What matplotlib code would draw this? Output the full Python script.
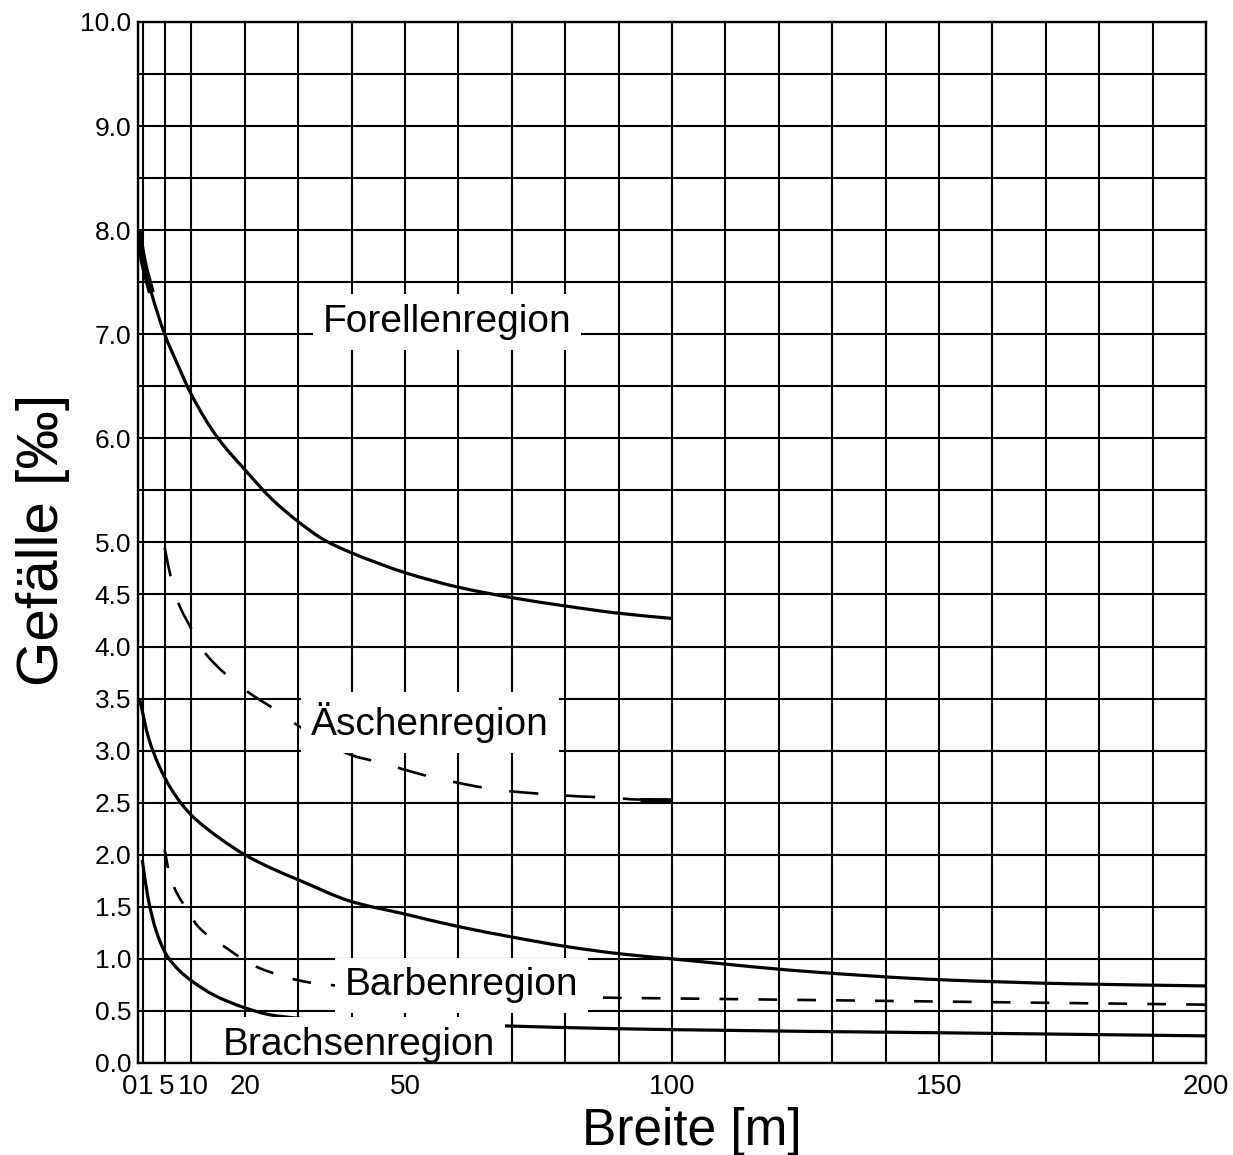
import matplotlib
matplotlib.use("Agg")
import matplotlib.pyplot as plt
import matplotlib.transforms as mtransforms
from matplotlib.path import Path
from matplotlib.patches import PathPatch

plt.rcParams["font.family"] = ["Liberation Sans", "DejaVu Sans"]
plt.rcParams["lines.scale_dashes"] = False

# Grenzkurven der Fischregionen: Breite [m] -> Gefälle [‰]
FORELLEN_X = [0, 1, 2.5, 5, 7.5, 10, 15, 20, 25, 30, 35, 40, 45, 50, 60, 70, 80, 90, 100]
FORELLEN_Y = [8.0, 7.7, 7.4, 7.0, 6.7, 6.42, 6.0, 5.7, 5.42, 5.2, 5.02, 4.9, 4.8, 4.71,
              4.57, 4.47, 4.39, 4.32, 4.27]

AESCHEN_X = [5.0, 6.0, 7.4, 10, 12.4, 16.3, 20.4, 25.2, 30, 35, 40.4, 45, 50.4, 55.5, 61,
             66.4, 71.8, 77.2, 82.8, 88, 94, 100]
AESCHEN_Y = [4.95, 4.70, 4.44, 4.17, 3.95, 3.74, 3.57, 3.41, 3.24, 3.08, 2.95, 2.89, 2.81,
             2.74, 2.68, 2.63, 2.60, 2.58, 2.56, 2.55, 2.53, 2.53]

BARBEN_X = [0.3, 2, 3.9, 6, 8, 10, 15, 20, 25, 30, 40, 50, 60, 70, 80, 90, 100, 125, 150,
            175, 200]
BARBEN_Y = [3.5, 3.12, 2.86, 2.65, 2.5, 2.38, 2.17, 2.0, 1.87, 1.76, 1.55, 1.43, 1.31, 1.21,
            1.12, 1.05, 1.0, 0.88, 0.8, 0.76, 0.74]

BARBEN_GRENZE_X = [5, 5.9, 7.3, 9.1, 11.1, 13.7, 16.7, 19.5, 22.8, 26.1, 30.4, 33.8, 60, 84,
                   100, 150, 200]
BARBEN_GRENZE_Y = [2.05, 1.81, 1.63, 1.48, 1.32, 1.2, 1.1, 1.0, 0.91, 0.85, 0.79, 0.76, 0.68,
                   0.63, 0.62, 0.59, 0.56]

BRACHSEN_X = [0.8, 1.9, 3.4, 5.2, 7.5, 10, 14.3, 20, 25, 30, 40, 60, 80, 100, 150, 200]
BRACHSEN_Y = [1.95, 1.58, 1.27, 1.05, 0.9, 0.79, 0.65, 0.53, 0.46, 0.43, 0.40, 0.37, 0.34,
              0.32, 0.29, 0.26]

X_TICKS = [0, 1, 5, 10, 20, 50, 100, 150, 200]
X_GRID = [30, 40, 60, 70, 80, 90, 110, 120, 130, 140, 160, 170, 180, 190]
Y_TICKS = [0.0, 0.5, 1.0, 1.5, 2.0, 2.5, 3.0, 3.5, 4.0, 4.5, 5.0, 6.0, 7.0, 8.0, 9.0, 10.0]
Y_GRID = [5.5, 6.5, 7.5, 8.5, 9.5]

# seitlicher Versatz der gedrängten Achsenzahlen am Nullpunkt (Pixel)
X_LABEL_SHIFT = {0: -1, 1: 2, 5: 1.5, 10: 2}

# Beschriftung der Regionen (Mitte x, Grundlinie y)
REGIONEN = [
    ("Forellenregion", 57.9, 7.02),
    ("Äschenregion", 54.7, 3.15),
    ("Barbenregion", 60.6, 0.65),
    ("Brachsenregion", 41.4, 0.08),
]


def glatter_pfad(xs, ys):
    """Monotone kubische Verbindung der Stützpunkte als Bezier-Pfad."""
    n = len(xs)
    h = [xs[i + 1] - xs[i] for i in range(n - 1)]
    d = [(ys[i + 1] - ys[i]) / h[i] for i in range(n - 1)]
    m = [d[0]] + [0.0] * (n - 2) + [d[-1]]
    for k in range(1, n - 1):
        if d[k - 1] * d[k] > 0:
            w1 = 2 * h[k] + h[k - 1]
            w2 = h[k] + 2 * h[k - 1]
            m[k] = (w1 + w2) / (w1 / d[k - 1] + w2 / d[k])
    verts = [(xs[0], ys[0])]
    codes = [Path.MOVETO]
    for i in range(n - 1):
        verts += [(xs[i] + h[i] / 3, ys[i] + m[i] * h[i] / 3),
                  (xs[i + 1] - h[i] / 3, ys[i + 1] - m[i + 1] * h[i] / 3),
                  (xs[i + 1], ys[i + 1])]
        codes += [Path.CURVE4] * 3
    return Path(verts, codes)


def kurve(ax, xs, ys, lw, dashes=None):
    ls = "-" if dashes is None else (0, dashes)
    ax.add_patch(PathPatch(glatter_pfad(xs, ys), fill=False, edgecolor="black",
                           linewidth=lw, linestyle=ls, capstyle="butt", zorder=3))


fig = plt.figure(figsize=(12.33, 11.55), dpi=100)
ax = fig.add_axes([0.1119, 0.0797, 0.8662, 0.9013])

ax.set_xlim(0, 200)
ax.set_ylim(0, 10)

ax.set_xticks(X_TICKS)
ax.set_xticks(X_GRID, minor=True)
ax.set_xticklabels([str(t) for t in X_TICKS], fontsize=20)
ax.set_yticks(Y_TICKS)
ax.set_yticks(Y_GRID, minor=True)
ax.set_yticklabels([f"{t:.1f}" for t in Y_TICKS], fontsize=19)
ax.tick_params(which="both", length=0)
ax.tick_params(axis="x", pad=8)
ax.tick_params(axis="y", pad=5)

for t, lab in zip(X_TICKS, ax.get_xticklabels()):
    if t in X_LABEL_SHIFT:
        if t == 0:
            lab.set_ha("right")
        versatz = mtransforms.ScaledTranslation(X_LABEL_SHIFT[t] / fig.dpi, 0,
                                                fig.dpi_scale_trans)
        lab.set_transform(lab.get_transform() + versatz)

ax.set_axisbelow(True)
ax.grid(True, which="both", color="black", linewidth=1.5)
for sp in ax.spines.values():
    sp.set_linewidth(1.7)
    sp.set_zorder(6)

kurve(ax, FORELLEN_X, FORELLEN_Y, 2.3)
kurve(ax, FORELLEN_X[:3], FORELLEN_Y[:3], 5)
kurve(ax, BARBEN_X, BARBEN_Y, 2.3)
kurve(ax, BRACHSEN_X, BRACHSEN_Y, 2.3)

kurve(ax, AESCHEN_X, AESCHEN_Y, 1.9, dashes=(21, 20))
ax.plot(AESCHEN_X[-2:], AESCHEN_Y[-2:], color="black", linewidth=3.5,
        solid_capstyle="butt", zorder=3)
kurve(ax, BARBEN_GRENZE_X, BARBEN_GRENZE_Y, 1.9, dashes=(13.5, 14.5))

for name, x, y in REGIONEN:
    ax.text(x, y, name, fontsize=28, ha="center", va="baseline", zorder=5,
            bbox=dict(facecolor="white", edgecolor="none", boxstyle="square,pad=0.25"))

fig.text(43 / 1233, 1 - 540 / 1155, "Gefälle [‰]", rotation=90, fontsize=42,
         ha="center", va="center")
fig.text(692 / 1233, 1 - 1145 / 1155, "Breite [m]", fontsize=37, ha="center", va="baseline")

fig.savefig("out.png", dpi=100, facecolor="white")
